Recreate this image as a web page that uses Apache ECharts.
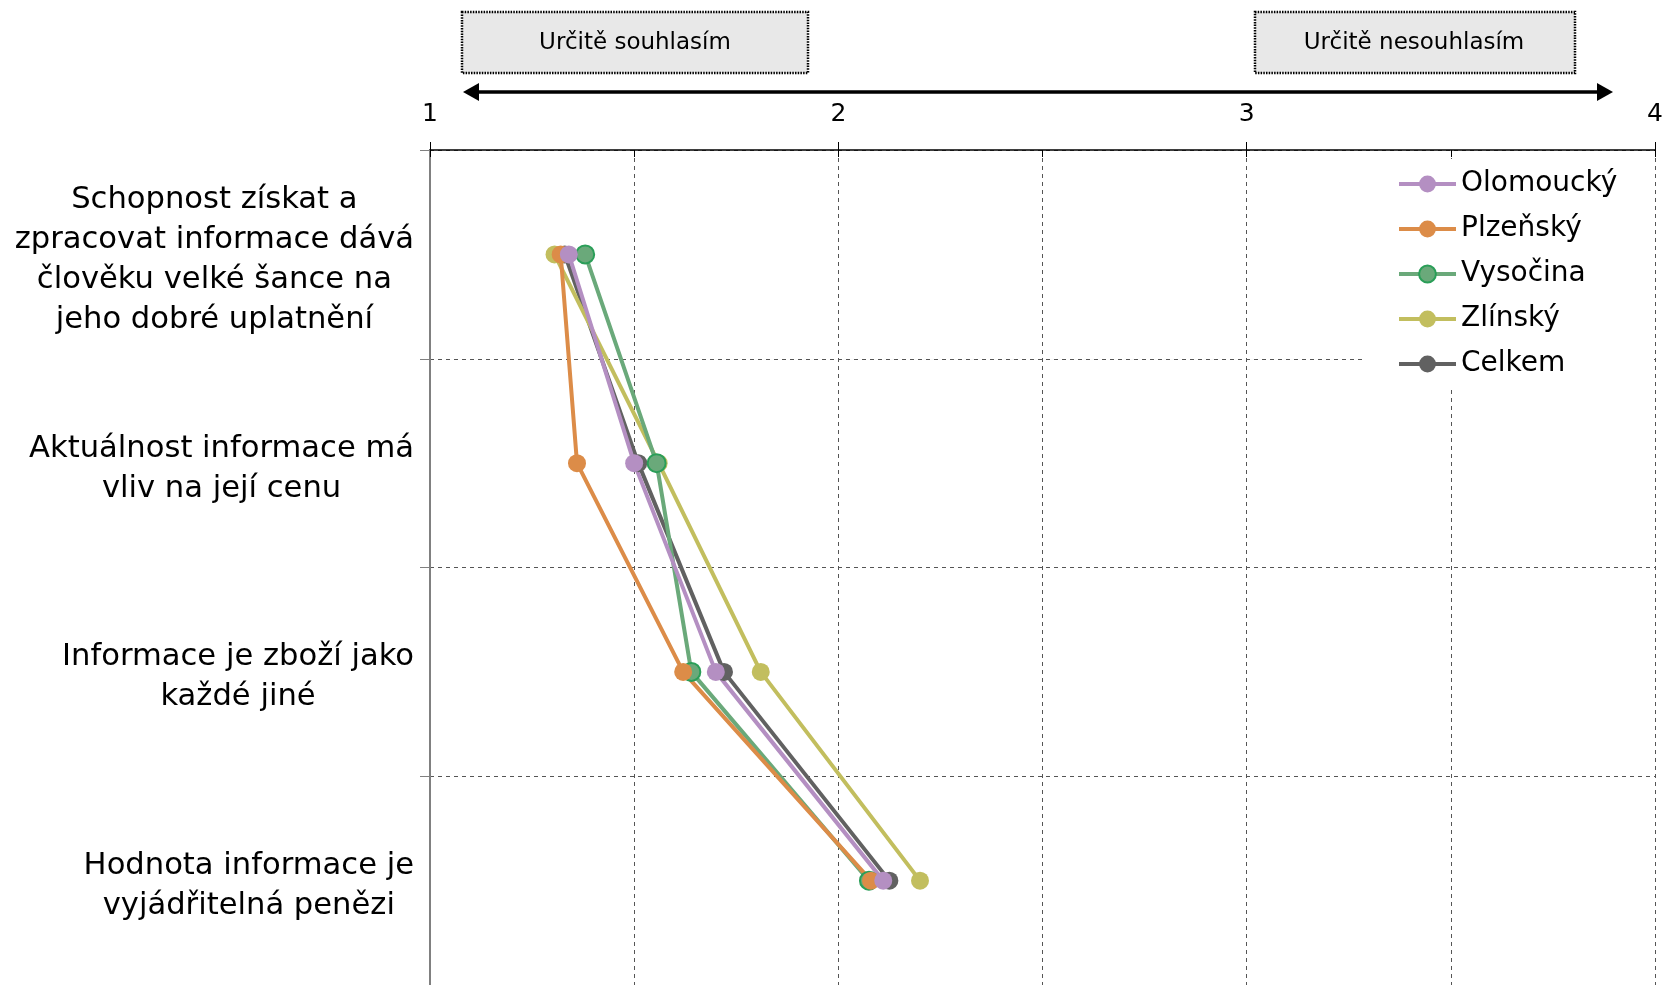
<!DOCTYPE html>
<html>
<head>
<meta charset="utf-8">
<script src="https://cdn.jsdelivr.net/npm/echarts@6/dist/echarts.min.js"></script>
<style>
  html, body { margin: 0; padding: 0; background: #fff; }
  #chart { width: 1666px; height: 985px; }
</style>
</head>
<body>
<div id="chart"></div>
<script>
var categories = [
    'Schopnost získat a\nzpracovat informace dává\nčlověku velké šance na\njeho dobré uplatnění',
    'Aktuálnost informace má\nvliv na její cenu',
    'Informace je zboží jako\nkaždé jiné',
    'Hodnota informace je\nvyjádřitelná penězi'
];

var olomoucky = [1.34, 1.50, 1.70, 2.11];
var plzensky = [1.32, 1.36, 1.62, 2.08];
var vysocina = [1.38, 1.555, 1.64, 2.075];
var zlinsky = [1.305, 1.56, 1.81, 2.20];
var celkem = [1.33, 1.51, 1.72, 2.125];

var legendNames = ['Olomoucký', 'Plzeňský', 'Vysočina', 'Zlínský', 'Celkem'];
var xTicks = [1, 2, 3, 4];
var scaleLabels = ['Určitě souhlasím', 'Určitě nesouhlasím'];

var FONT = 'DejaVu Sans';

function pairs(values) {
    var out = [];
    for (var i = 0; i < values.length; i++) {
        out.push([values[i], categories[i]]);
    }
    return out;
}

function makeSeries(name, values, color, border) {
    return {
        name: name,
        type: 'line',
        xAxisIndex: 0,
        yAxisIndex: 0,
        data: pairs(values),
        symbol: 'circle',
        symbolSize: 18,
        lineStyle: { color: color, width: 4 },
        itemStyle: {
            color: color,
            borderColor: border || color,
            borderWidth: border ? 2 : 0
        },
        emphasis: { disabled: true }
    };
}

var myChart = echarts.init(document.getElementById('chart'));

var option = {
    animation: false,
    backgroundColor: '#fff',
    textStyle: { fontFamily: FONT },
    grid: {
        left: 430,
        top: 150,
        width: 1225,
        height: 840
    },
    xAxis: [{
        type: 'value',
        position: 'top',
        min: 1,
        max: 4,
        interval: 0.5,
        axisLine: { show: true, lineStyle: { color: '#000', width: 1.5 } },
        axisTick: { show: true, inside: true, length: 7, lineStyle: { color: '#000', width: 1 } },
        axisLabel: { show: false },
        splitLine: { show: true, lineStyle: { color: '#555', width: 1, type: [4, 4] } }
    }, {
        type: 'value',
        position: 'top',
        min: 1,
        max: 4,
        interval: 1,
        axisLine: { show: false },
        axisTick: { show: true, inside: false, length: 8, lineStyle: { color: '#000', width: 1 } },
        axisLabel: {
            show: true,
            margin: 23,
            fontSize: 25,
            fontFamily: FONT,
            color: '#000',
            formatter: function (v) { return xTicks.indexOf(v) >= 0 ? String(v) : ''; }
        },
        splitLine: { show: false }
    }],
    yAxis: {
        type: 'category',
        inverse: true,
        data: categories,
        axisLine: { show: true, lineStyle: { color: '#808080', width: 2 } },
        axisTick: { show: true, length: 10, lineStyle: { color: '#808080', width: 1 } },
        splitLine: { show: true, lineStyle: { color: '#555', width: 1, type: [4, 4] } },
        axisLabel: {
            margin: 16,
            padding: [11, 0, 0, 0],
            formatter: function (v) {
                return v.split('\n').map(function (s) { return '{c|' + s + '}'; }).join('\n');
            },
            rich: {
                c: {
                    fontSize: 30.6,
                    lineHeight: 40,
                    fontFamily: FONT,
                    color: '#000',
                    align: 'center'
                }
            }
        }
    },
    legend: {
        orient: 'vertical',
        left: 1362,
        top: 159,
        padding: [10, 34, 10, 35],
        backgroundColor: '#fff',
        itemWidth: 57,
        itemHeight: 21,
        itemGap: 15,
        data: legendNames,
        lineStyle: { width: 4 },
        textStyle: { fontSize: 28, lineHeight: 30, fontFamily: FONT, color: '#000' }
    },
    graphic: [
        {
            type: 'rect',
            shape: { x: 462, y: 12, width: 346, height: 61 },
            style: { fill: '#e8e8e8', stroke: '#000', lineWidth: 2.5, lineDash: [1.5, 1.2] }
        },
        {
            type: 'text',
            x: 635, y: 43,
            style: { text: scaleLabels[0], font: '23px "DejaVu Sans"', fill: '#000', textAlign: 'center', textVerticalAlign: 'middle' }
        },
        {
            type: 'rect',
            shape: { x: 1255, y: 12, width: 320, height: 61 },
            style: { fill: '#e8e8e8', stroke: '#000', lineWidth: 2.5, lineDash: [1.5, 1.2] }
        },
        {
            type: 'text',
            x: 1414, y: 43,
            style: { text: scaleLabels[1], font: '23px "DejaVu Sans"', fill: '#000', textAlign: 'center', textVerticalAlign: 'middle' }
        },
        {
            type: 'line',
            shape: { x1: 474, y1: 92, x2: 1602, y2: 92 },
            style: { stroke: '#000', lineWidth: 3.5 }
        },
        {
            type: 'polygon',
            shape: { points: [[463, 92], [479, 83], [479, 101]] },
            style: { fill: '#000' }
        },
        {
            type: 'polygon',
            shape: { points: [[1613, 92], [1597, 83], [1597, 101]] },
            style: { fill: '#000' }
        }
    ],
    series: [
        makeSeries('Celkem', celkem, '#616161'),
        makeSeries('Zlínský', zlinsky, '#c2be5e'),
        makeSeries('Vysočina', vysocina, '#6aa97a', '#2a9e58'),
        makeSeries('Plzeňský', plzensky, '#dc8c48'),
        makeSeries('Olomoucký', olomoucky, '#b48fc2')
    ]
};

myChart.setOption(option);
</script>
</body>
</html>
